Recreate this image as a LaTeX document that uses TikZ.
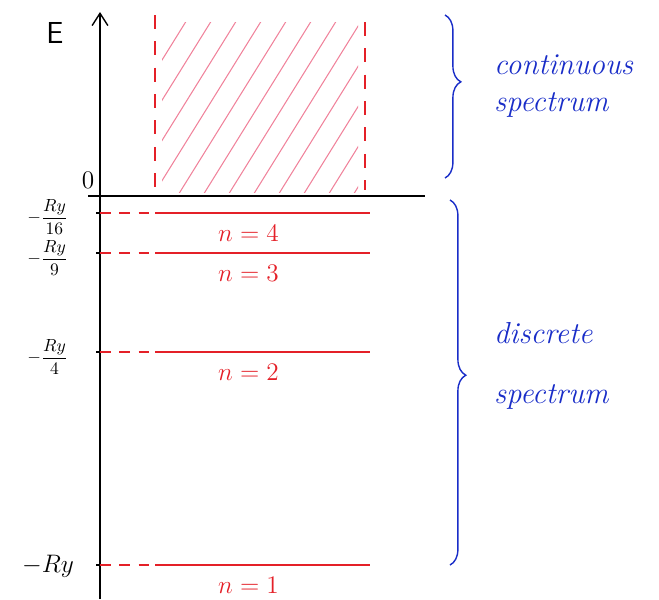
\documentclass[tikz,border=0pt]{standalone}
\usepackage{amsmath}
\usepackage{tikz}
\usetikzlibrary{arrows.meta, positioning, decorations.pathreplacing}
\definecolor{clrLevel}{RGB}{228,32,40}
\definecolor{clrHatch}{RGB}{240,130,155}
\definecolor{clrBrace}{RGB}{25,45,200}

\begin{document}
\begin{tikzpicture}[
  x=0.02cm, y=-0.02cm,
  axis/.style={thick, black},
  axarr/.style={axis, -{Straight Barb[length=7pt,width=9pt]}},
  level/.style={thick, draw=clrLevel},
  ghost/.style={level, dash pattern=on 6pt off 5pt},
  edgeline/.style={thick, draw=clrLevel, dash pattern=on 8pt off 7pt},
  hatchline/.style={draw=clrHatch, semithick, line cap=round},
  lvllabel/.style={text=clrLevel, font=\Large},
  ticklabel/.style={anchor=east, font=\normalsize, inner sep=1pt},
  brc/.style={decorate, thick, draw=clrBrace},
  side/.style={text=clrBrace, font=\LARGE\itshape, anchor=west}
]
\useasboundingbox (0,0) rectangle (659,599);

% energy axis
\coordinate (axbot) at (100,599);
\coordinate (axtop) at (100,12);
\coordinate (zl) at (88,196);
\coordinate (zr) at (425,196);
\draw[axarr] (axbot) -- (axtop);
\draw[axis] (zl) -- (zr);
\node[font=\LARGE\sffamily] (elab) at (55,33) {E};
\node[font=\Large] (zero) at (88,180) {0};

% continuum, hatched
\coordinate (cl1) at (155,15);  \coordinate (cl2) at (155,190);
\coordinate (cr1) at (365,22);  \coordinate (cr2) at (365,190);
\draw[edgeline] (cl1) -- (cl2);
\draw[edgeline] (cr1) -- (cr2);
\begin{scope}
  \clip (162,22) rectangle (358,192);
  \foreach \i in {0,...,14}
    \draw[hatchline] (50+\i*25,200) -- ++(115,-185);
\end{scope}

% bound levels
\foreach \n/\y in {4/213, 3/253, 2/352, 1/565}{
  \coordinate (t\n) at (100,\y);
  \coordinate (s\n) at (155,\y);
  \coordinate (e\n) at (370,\y);
  \draw[axis] (96,\y) -- (t\n);
  \draw[ghost] (t\n) -- (s\n);
  \draw[level] (s\n) -- node[lvllabel, below=3pt, xshift=-8pt] {$n=\n$} (e\n);
}
\node[ticklabel] (lab4) at (70,217) {$-\dfrac{Ry}{16}$};
\node[ticklabel] (lab3) at (70,258) {$-\dfrac{Ry}{9}$};
\node[ticklabel] (lab2) at (70,357) {$-\dfrac{Ry}{4}$};
\node[ticklabel, font=\Large] (lab1) at (76,566) {$-Ry$};

% braces
\coordinate (bc1) at (445,15);  \coordinate (bc2) at (445,178);
\coordinate (bd1) at (450,200); \coordinate (bd2) at (450,565);
\draw[brc, decoration={brace, amplitude=9pt, aspect=0.41}] (bc1) -- (bc2);
\draw[brc, decoration={brace, amplitude=9pt, aspect=0.48}] (bd1) -- (bd2);
\node[side] (cont) at (488,65)  {continuous};
\node[side, below=3pt of cont.south west, anchor=north west] (cspec) {spectrum};
\node[side] (disc) at (488,333) {discrete};
\node[side, below=16pt of disc.south west, anchor=north west] (dspec) {spectrum};

\end{tikzpicture}
\end{document}
